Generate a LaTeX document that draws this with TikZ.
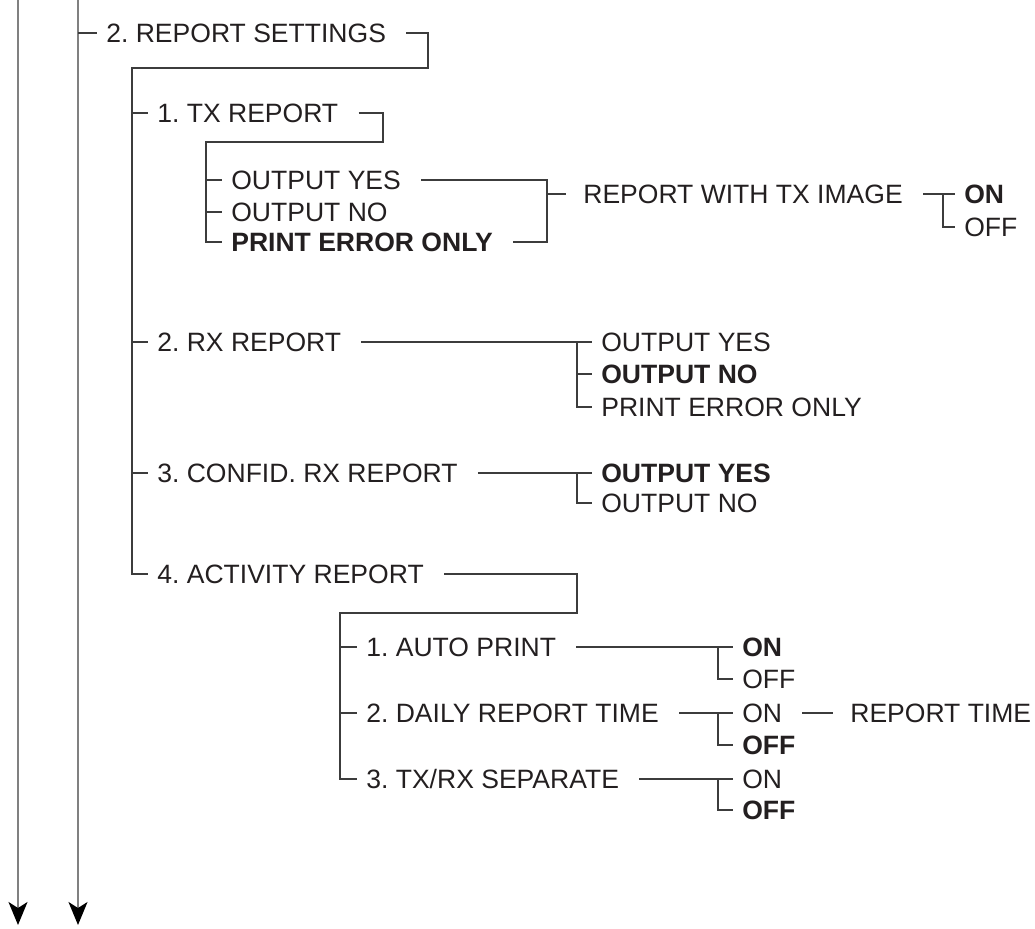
\documentclass[tikz,border=0pt]{standalone}
\usepackage{fontspec}
\setmainfont{Liberation Sans}
\usepackage{xcolor}
\definecolor{menutext}{HTML}{231F20}
\definecolor{menuline}{HTML}{3C3C3C}
\definecolor{menuflow}{HTML}{808080}
\usepackage{tikz}
\usetikzlibrary{arrows.meta, positioning, calc}
\frenchspacing
\newcommand{\menufont}{\fontsize{15.1pt}{17pt}\selectfont}
\tikzset{
  mitem/.style ={anchor=west, inner xsep=0.18cm, inner ysep=0pt, text height=10.8pt, text depth=0pt,
                 text=menutext, font=\menufont},
  mitemb/.style={mitem, font=\menufont\bfseries},
  mline/.style ={draw=menuline, line width=0.8pt},
  mflow/.style ={draw=menuflow, line width=0.9pt,
                 -{Stealth[length=0.46cm, width=0.38cm, inset=0.12cm, color=black]}},
  mgap/.style  ={xshift=0.22cm},
}

\begin{document}
\begin{tikzpicture}[x=0.02cm, y=-0.02cm]
  \useasboundingbox (0,0) rectangle (1035,929);
  % flow lines
  \coordinate (top1) at (18,0);  \coordinate (end1) at (18,925);
  \coordinate (top2) at (78,0);  \coordinate (end2) at (78,925);
  \draw[mflow] (top1) -- (end1);
  \draw[mflow] (top2) -- (end2);

  % report settings
  \node[mitem] (rset) at (97,33) {2. REPORT SETTINGS};
  \draw[mline] (top2 |- rset) -- (rset.west);
  \coordinate (k1) at (428,68); \coordinate (b1) at (132,68);
  \node[mitem] (tx)  at (148,113) {1. TX REPORT};
  \node[mitem] (rx)  at (148,342) {2. RX REPORT};
  \node[mitem] (cfd) at (148,473) {3. CONFID. RX REPORT};
  \node[mitem] (act) at (148,574) {4. ACTIVITY REPORT};
  \draw[mline] ([mgap]rset.east) -| (k1) -- (b1) -- (b1 |- act) -- (act.west);
  \foreach \n in {tx,rx,cfd} \draw[mline] (b1 |- \n) -- (\n.west);

  % tx report
  \coordinate (k2) at (383,142); \coordinate (b2) at (206,142);
  \node[mitem]  (txy) at (222,180) {OUTPUT YES};
  \node[mitem]  (txn) at (222,212) {OUTPUT NO};
  \node[mitemb] (txp) at (222,242) {PRINT ERROR ONLY};
  \draw[mline] ([mgap]tx.east) -| (k2) -- (b2) -- (b2 |- txp) -- (txp.west);
  \draw[mline] (b2 |- txy) -- (txy.west);
  \draw[mline] (b2 |- txn) -- (txn.west);
  \coordinate (j1) at (547,194);
  \node[mitem] (img) at (574,194) {REPORT WITH TX IMAGE};
  \draw[mline] ([mgap]txy.east) -- (txy -| j1) -- (txp -| j1) -- ([mgap]txp.east);
  \draw[mline] (j1) -- ([xshift=-0.16cm]img.west);
  \coordinate (b3) at (943,194);
  \node[mitemb] (imgon)  at (955,194) {ON};
  \node[mitem]  (imgoff) at (955,227) {OFF};
  \draw[mline] ([mgap]img.east) -- (imgon.west);
  \draw[mline] (b3) -- (b3 |- imgoff) -- (imgoff.west);

  % rx report
  \coordinate (b4) at (577,342);
  \node[mitem]  (rxy) at (592,342) {OUTPUT YES};
  \node[mitemb] (rxn) at (592,374) {OUTPUT NO};
  \node[mitem]  (rxp) at (592,407) {PRINT ERROR ONLY};
  \draw[mline] ([mgap]rx.east) -- (rxy.west);
  \draw[mline] (b4) -- (b4 |- rxp) -- (rxp.west);
  \draw[mline] (b4 |- rxn) -- (rxn.west);

  % confid. rx report
  \coordinate (b5) at (577,473);
  \node[mitemb] (cfy) at (592,473) {OUTPUT YES};
  \node[mitem]  (cfn) at (592,503) {OUTPUT NO};
  \draw[mline] ([mgap]cfd.east) -- (cfy.west);
  \draw[mline] (b5) -- (b5 |- cfn) -- (cfn.west);

  % activity report
  \coordinate (k6) at (577,613); \coordinate (b6) at (340,613);
  \node[mitem] (auto)  at (357,647) {1. AUTO PRINT};
  \node[mitem] (daily) at (357,713) {2. DAILY REPORT TIME};
  \node[mitem] (sep)   at (357,779) {3. TX/RX SEPARATE};
  \draw[mline] ([mgap]act.east) -| (k6) -- (b6) -- (b6 |- sep) -- (sep.west);
  \foreach \n in {auto,daily} \draw[mline] (b6 |- \n) -- (\n.west);
  \coordinate (b7) at (718,0);
  \node[mitemb] (aon)  at (733,647) {ON};
  \node[mitem]  (aoff) at (733,679) {OFF};
  \node[mitem]  (don)  at (733,713) {ON};
  \node[mitemb] (doff) at (733,745) {OFF};
  \node[mitem]  (son)  at (733,779) {ON};
  \node[mitemb] (soff) at (733,810) {OFF};
  \draw[mline] ([mgap]auto.east) -- (aon.west);
  \draw[mline] ([mgap]daily.east) -- (don.west);
  \draw[mline] ([mgap]sep.east) -- (son.west);
  \foreach \a/\b in {aon/aoff,don/doff,son/soff}
    \draw[mline] (b7 |- \a) -- (b7 |- \b) -- (\b.west);
  \node[mitem] (rtime) at (841,713) {REPORT TIME};
  \draw[mline] ([mgap]don.east) -- ([xshift=-0.16cm]rtime.west);
\end{tikzpicture}
\end{document}
